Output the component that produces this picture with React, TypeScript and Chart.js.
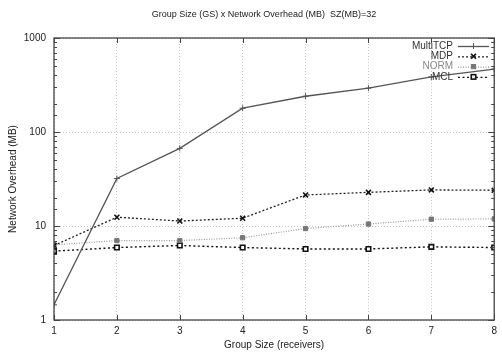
import React, { useEffect, useRef } from "react";
import { Chart, registerables } from "chart.js";

Chart.register(...registerables);

const groupSizes = [1, 2, 3, 4, 5, 6, 7, 8];
const multiTCP = [1.45, 32, 67, 179, 240, 293, 385, 467];
const mdp = [6.2, 12.4, 11.3, 12.1, 21.4, 22.8, 24.2, 24.0];
const norm = [6.3, 7.0, 7.0, 7.5, 9.4, 10.5, 11.8, 11.9];
const mcl = [5.4, 5.9, 6.2, 5.9, 5.7, 5.7, 6.0, 5.9];
const yTickLabels = [1, 10, 100, 1000];

const titleText = "Group Size (GS) x Network Overhead (MB)  SZ(MB)=32";
const FONT = "'Liberation Sans', Arial, sans-serif";

const isDecade = (v: number) => yTickLabels.includes(v);

const framePlugin = {
  id: "frame",
  afterDatasetsDraw(chart: any) {
    const { ctx, chartArea: a, scales } = chart;
    ctx.save();
    ctx.strokeStyle = "#444";
    ctx.lineWidth = 1;
    ctx.setLineDash([]);
    const ys = scales.y;
    ys.ticks.forEach((t: any) => {
      const py = Math.round(ys.getPixelForValue(t.value)) + 0.5;
      const len = isDecade(t.value) ? 6 : 3;
      ctx.beginPath();
      ctx.moveTo(a.left, py);
      ctx.lineTo(a.left + len, py);
      ctx.moveTo(a.right, py);
      ctx.lineTo(a.right - len, py);
      ctx.stroke();
    });
    const xs = scales.x;
    groupSizes.forEach((g) => {
      const px = Math.round(xs.getPixelForValue(g)) + 0.5;
      ctx.beginPath();
      ctx.moveTo(px, a.bottom);
      ctx.lineTo(px, a.bottom - 5);
      ctx.moveTo(px, a.top);
      ctx.lineTo(px, a.top + 5);
      ctx.stroke();
    });
    ctx.lineWidth = 1.3;
    ctx.strokeRect(a.left, a.top, a.right - a.left, a.bottom - a.top);
    ctx.restore();
  },
  afterDraw(chart: any) {
    const { ctx } = chart;
    ctx.save();
    ctx.fillStyle = "#222";
    ctx.font = `9px ${FONT}`;
    ctx.textAlign = "center";
    ctx.textBaseline = "middle";
    ctx.fillText(titleText, 264, 15);
    ctx.textAlign = "right";
    ctx.font = `10px ${FONT}`;
    const ds = chart.data.datasets;
    ds.forEach((d: any, i: number) => {
      const y = 46 + i * 10.3;
      ctx.fillStyle = i === 2 ? "#888" : "#333";
      ctx.fillText(d.label, 453, y);
      ctx.strokeStyle = d.borderColor;
      ctx.lineWidth = d.borderWidth;
      ctx.setLineDash(d.borderDash || []);
      ctx.beginPath();
      ctx.moveTo(458, y + 0.5);
      ctx.lineTo(489, y + 0.5);
      ctx.stroke();
      ctx.setLineDash([]);
      const mx = 473.5;
      const r = d.pointRadius;
      ctx.lineWidth = d.pointBorderWidth || 1;
      ctx.strokeStyle = d.pointBorderColor;
      ctx.fillStyle = d.pointBackgroundColor;
      if (d.pointStyle === "cross") {
        ctx.beginPath();
        ctx.moveTo(mx - r, y + 0.5); ctx.lineTo(mx + r, y + 0.5);
        ctx.moveTo(mx, y - r); ctx.lineTo(mx, y + r);
        ctx.stroke();
      } else if (d.pointStyle === "crossRot") {
        ctx.beginPath();
        ctx.moveTo(mx - r * 0.7, y - r * 0.7); ctx.lineTo(mx + r * 0.7, y + r * 0.7);
        ctx.moveTo(mx + r * 0.7, y - r * 0.7); ctx.lineTo(mx - r * 0.7, y + r * 0.7);
        ctx.stroke();
      } else {
        const s = r * 1.4;
        ctx.fillRect(mx - s / 2, y - s / 2, s, s);
        ctx.strokeRect(mx - s / 2, y - s / 2, s, s);
      }
    });
    ctx.restore();
  },
};

export default function App() {
  const ref = useRef<HTMLCanvasElement | null>(null);
  useEffect(() => {
    if (!ref.current) return;
    const mk = (label: string, data: number[], opts: any) => ({
      label,
      data: groupSizes.map((g, i) => ({ x: g, y: data[i] })),
      fill: false,
      tension: 0,
      ...opts,
    });
    const chart = new Chart(ref.current, {
      type: "line",
      data: {
        datasets: [
          mk("MultiTCP", multiTCP, {
            borderColor: "#555",
            borderWidth: 1.3,
            pointStyle: "cross",
            pointRadius: 3,
            pointBorderColor: "#555",
            pointBackgroundColor: "#555",
            pointBorderWidth: 1,
          }),
          mk("MDP", mdp, {
            borderColor: "#222",
            borderWidth: 1.3,
            borderDash: [2, 2],
            pointStyle: "crossRot",
            pointRadius: 3.5,
            pointBorderColor: "#111",
            pointBackgroundColor: "#111",
            pointBorderWidth: 1.6,
          }),
          mk("NORM", norm, {
            borderColor: "#999",
            borderWidth: 1.2,
            borderDash: [1, 1.5],
            pointStyle: "rect",
            pointRadius: 3,
            pointBorderColor: "#777",
            pointBackgroundColor: "#777",
            pointBorderWidth: 1,
          }),
          mk("MCL", mcl, {
            borderColor: "#111",
            borderWidth: 1.4,
            borderDash: [2, 2.5],
            pointStyle: "rect",
            pointRadius: 3.2,
            pointBorderColor: "#111",
            pointBackgroundColor: "#fff",
            pointBorderWidth: 1.6,
          }),
        ],
      },
      options: {
        animation: false,
        responsive: false,
        maintainAspectRatio: false,
        layout: { padding: { top: 38, right: 2, left: 0, bottom: 0 } },
        plugins: { legend: { display: false }, title: { display: false }, tooltip: { enabled: false } },
        scales: {
          x: {
            type: "linear",
            min: 1,
            max: 8,
            afterFit: (s: any) => { s.height = 34; },
            ticks: { stepSize: 1, color: "#222", font: { family: FONT, size: 10 }, padding: 5 },
            border: { display: false, dash: [1, 2] },
            grid: { color: "#c4c4c4", drawTicks: false, tickLength: 0 },
            title: { display: true, text: "Group Size (receivers)", color: "#222", font: { family: FONT, size: 10 }, padding: { top: 1, bottom: 3 } },
          },
          y: {
            type: "logarithmic",
            min: 1,
            max: 1000,
            afterFit: (s: any) => { s.width = 54; },
            ticks: {
              color: "#222",
              font: { family: FONT, size: 10 },
              padding: 8,
              autoSkip: false,
              callback: (v: any) => (isDecade(Number(v)) ? String(v) : ""),
            },
            border: { display: false, dash: [1, 2] },
            grid: {
              color: (c: any) => (c.tick && isDecade(c.tick.value) ? "#c4c4c4" : "rgba(0,0,0,0)"),
              drawTicks: false,
              tickLength: 0,
            },
            title: { display: true, text: "Network Overhead (MB)", color: "#222", font: { family: FONT, size: 10 }, padding: { top: 7, bottom: 0 } },
          },
        },
      } as any,
      plugins: [framePlugin],
    });
    return () => chart.destroy();
  }, []);
  return (
    <div style={{ position: "fixed", left: 0, top: 0, width: 502, height: 354, background: "#fff" }}>
      <canvas ref={ref} width={502} height={354} style={{ width: 502, height: 354 }} />
    </div>
  );
}
